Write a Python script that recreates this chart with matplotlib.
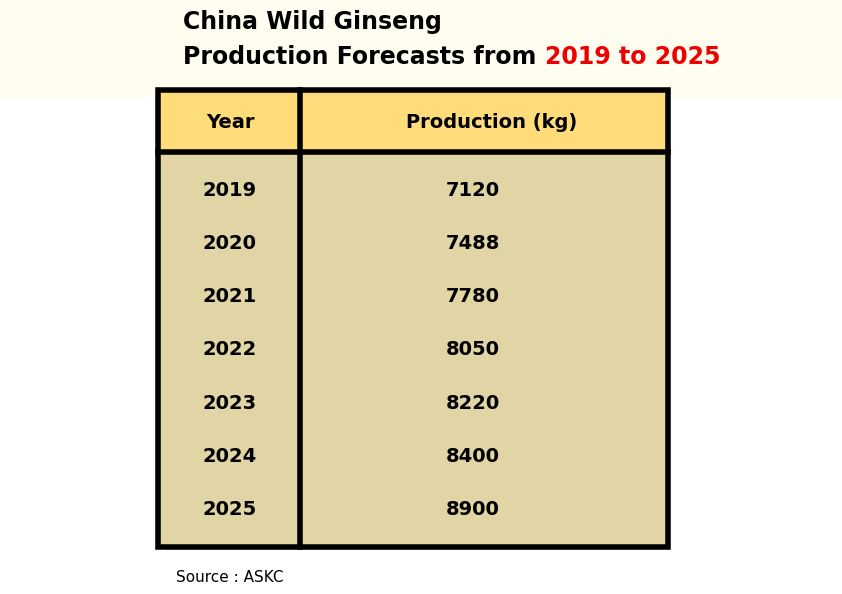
import matplotlib.pyplot as plt
from matplotlib.patches import Rectangle

years = ['2019', '2020', '2021', '2022', '2023', '2024', '2025']
production = [7120, 7488, 7780, 8050, 8220, 8400, 8900]
headers = ['Year', 'Production (kg)']

fig = plt.figure(figsize=(8.42, 5.94), dpi=100)
ax = fig.add_axes([0, 0, 1, 1])
ax.set_xlim(0, 842)
ax.set_ylim(594, 0)
ax.axis('off')

# top band
ax.add_patch(Rectangle((0, 0), 842, 96, color='#FFFDF0', zorder=0))
tfont = dict(family=['Liberation Sans Narrow', 'DejaVu Sans'], fontsize=17, fontweight='bold')
ax.text(183, 22, 'China Wild Ginseng', va='center', ha='left', **tfont)
t = ax.text(183, 57, 'Production Forecasts from ', va='center', ha='left', **tfont)
ax.annotate('2019 to 2025', xycoords=t, xy=(1, 0.5), va='center', ha='left',
            color='#EE0000', **tfont)

# table
left, right, top, bottom = 158, 668, 90, 547
mid, head = 300, 152
ax.add_patch(Rectangle((left, top), right - left, head - top, facecolor='#FFDC7A', edgecolor='none', zorder=1))
ax.add_patch(Rectangle((left, head), right - left, bottom - head, facecolor='#E2D5A5', edgecolor='none', zorder=1))
ax.add_patch(Rectangle((left, top), right - left, bottom - top, fill=False, edgecolor='black', lw=4, zorder=3))
ax.plot([mid, mid], [top, bottom], color='black', lw=4, zorder=3)
ax.plot([left, right], [head, head], color='black', lw=4, zorder=3)

cfont = dict(family='DejaVu Sans', fontsize=14, fontweight='bold', va='center', ha='center', zorder=4)
ax.text(230, 122, headers[0], **cfont)
ax.text(492, 122, headers[1], **cfont)
for i, (y, p) in enumerate(zip(years, production)):
    yy = 190 + i * 53.3
    ax.text(230, yy, y, **cfont)
    ax.text(473, yy, str(p), **cfont)

ax.text(176, 578, 'Source : ASKC', fontsize=11, va='center', ha='left')

fig.savefig('out.png', dpi=100)
